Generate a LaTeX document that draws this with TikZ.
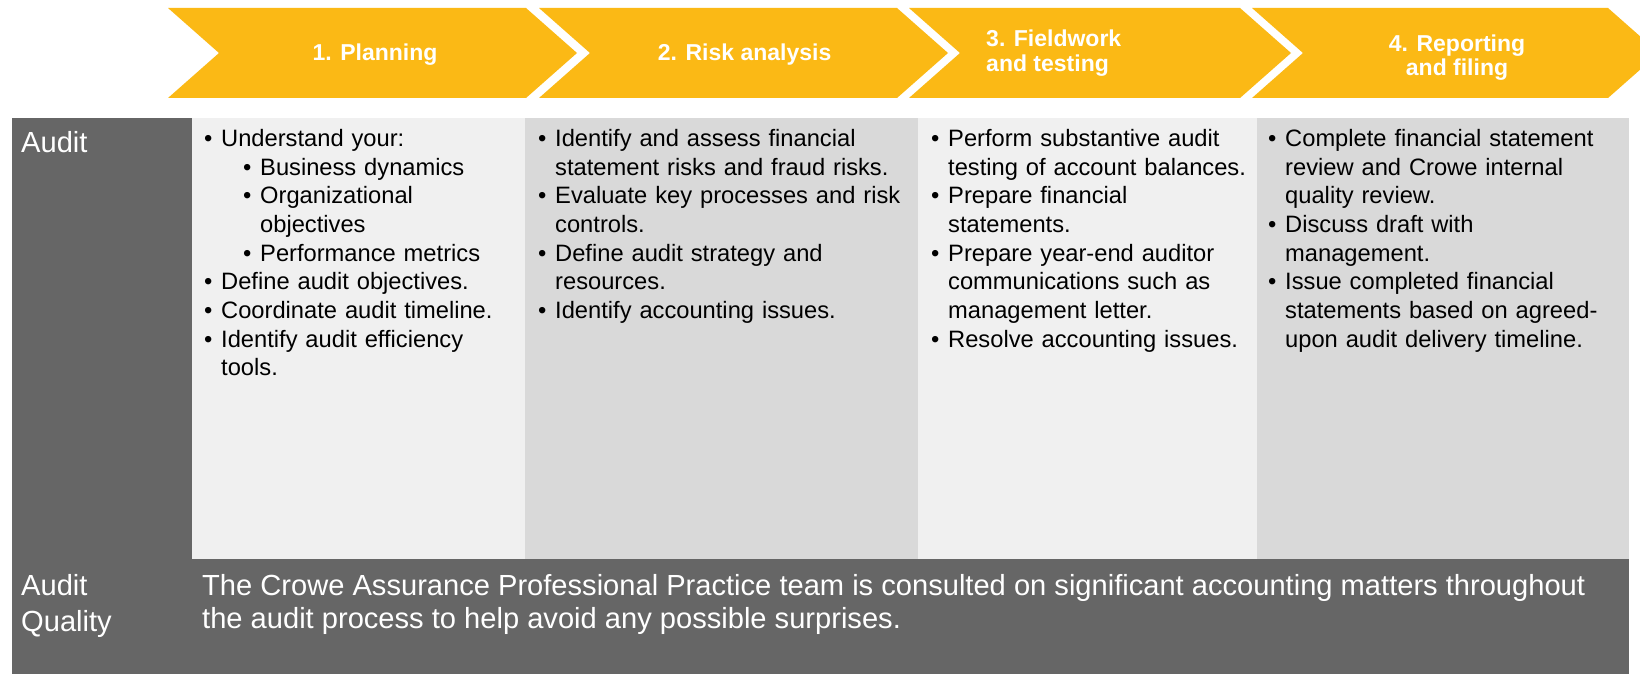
\documentclass[tikz,border=0pt]{standalone}
\usepackage{fontspec}
\setmainfont{Liberation Sans}
\definecolor{crowe}{HTML}{FBB915}
\definecolor{darkg}{HTML}{666666}
\definecolor{lightg}{HTML}{F0F0F0}
\definecolor{midg}{HTML}{D9D9D9}
\newcommand{\bi}[1]{\par\noindent\hangindent=17pt\hangafter=1\strut\makebox[17pt][l]{•}#1\strut}
\newcommand{\si}[1]{\par\noindent\hangindent=56pt\hangafter=1\strut\hspace*{39pt}\makebox[17pt][l]{•}#1\strut}
\tikzset{
  chev/.style={fill=crowe, draw=none},
  hdr/.style={anchor=base, inner sep=0pt, text=white, font=\fontsize{23}{27}\selectfont\bfseries},
  hdrl/.style={anchor=base west, inner sep=0pt, text=white, font=\fontsize{23}{27}\selectfont\bfseries},
  body/.style={anchor=north west, inner sep=0pt, text width=420pt, align=left, font=\fontsize{23.7}{28.6}\selectfont},
  lab/.style={anchor=base west, inner sep=0pt, text=white, font=\fontsize{29.1}{35}\selectfont},
}
\begin{document}
\begin{tikzpicture}[x=1pt,y=-1pt]
\useasboundingbox (0,0) rectangle (1640,674);
\clip (0,0) rectangle (1640,674);
\fill[white] (0,0) rectangle (1640,674);
% chevrons
\foreach \L/\R in {168/526, 539/897, 909/1240, 1252/1608}{
  \fill[chev] (\L,8) -- (\R,8) -- (\R+51,53) -- (\R,98) -- (\L,98) -- (\L+51,53) -- cycle;
}
% table backgrounds
\fill[darkg] (12,118) rectangle (192,674);
\fill[darkg] (12,559) rectangle (1629,674);
\fill[lightg] (192,118) rectangle (525,559);
\fill[midg] (525,118) rectangle (918,559);
\fill[lightg] (918,118) rectangle (1257,559);
\fill[midg] (1257,118) rectangle (1629,559);
% header labels
\node[hdr] (h1) at (375,61) {1. Planning};
\node[hdr] (h2) at (744.6,61) {2. Risk analysis};
\node[hdrl] (h3a) at (986,46.5) {3. Fieldwork};
\node[hdrl] (h3b) at (986,71.5) {and testing};
\node[hdr] (h4a) at (1457,51.5) {4. Reporting};
\node[hdr] (h4b) at (1457,75.5) {and filing};
% row labels
\node[lab] (audit) at (21,152) {Audit};
\node[lab] (aq1) at (21,595) {Audit};
\node[lab] (aq2) at (21,631) {Quality};
% columns
\node[body] (c1) at (204,118) {\setlength{\parskip}{0pt}%
\bi{Understand your:}%
\si{Business dynamics}%
\si{Organizational\newline objectives}%
\si{Performance metrics}%
\bi{Define audit objectives.}%
\bi{Coordinate audit timeline.}%
\bi{Identify audit efficiency\newline tools.}\par};
\node[body] (c2) at (538,118) {\setlength{\parskip}{0pt}%
\bi{Identify and assess financial\newline statement risks and fraud risks.}%
\bi{Evaluate key processes and risk\newline controls.}%
\bi{Define audit strategy and\newline resources.}%
\bi{Identify accounting issues.}\par};
\node[body] (c3) at (931,118) {\setlength{\parskip}{0pt}%
\bi{Perform substantive audit\newline testing of account balances.}%
\bi{Prepare financial\newline statements.}%
\bi{Prepare year-end auditor\newline communications such as\newline management letter.}%
\bi{Resolve accounting issues.}\par};
\node[body] (c4) at (1268,118) {\setlength{\parskip}{0pt}%
\bi{Complete financial statement\newline review and Crowe internal\newline quality review.}%
\bi{Discuss draft with\newline management.}%
\bi{Issue completed financial\newline statements based on agreed-\newline upon audit delivery timeline.}\par};
% audit quality text
\node[lab] (q1) at (202,595) {The Crowe Assurance Professional Practice team is consulted on significant accounting matters throughout};
\node[lab] (q2) at (202,628) {the audit process to help avoid any possible surprises.};
\end{tikzpicture}
\end{document}
